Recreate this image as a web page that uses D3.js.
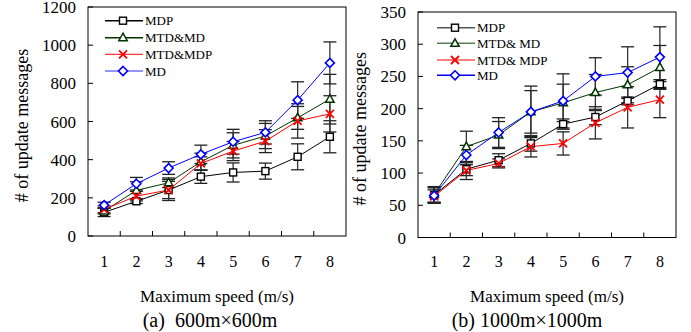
<!DOCTYPE html>
<html>
<head>
<meta charset="utf-8">
<script src="https://cdn.jsdelivr.net/npm/d3@7"></script>
<style>
  body { margin: 0; background: #fff; }
  svg { display: block; font-family: "Liberation Serif", "Times New Roman", serif; }
</style>
</head>
<body>
<svg id="chart" width="691" height="332"></svg>
<script>
// categories
const speeds = [1, 2, 3, 4, 5, 6, 7, 8];
const seriesNames = ["MDP", "MTD&MD", "MTD&MDP", "MD"];
const legendNamesB = ["MDP", "MTD& MD", "MTD& MDP", "MD"];

// (a) 600m x 600m
const mdpA     = [124, 182, 241, 311, 333, 340, 415, 520];
const mtdMdA   = [131, 239, 279, 389, 475, 524, 619, 717];
const mtdMdpA  = [140, 209, 241, 380, 445, 497, 603, 640];
const mdA      = [162, 274, 356, 428, 494, 543, 712, 907];
const mdpErrA    = [22, 12, 45, 35, 50, 42, 68, 84];
const mtdMdErrA  = [15, 45, 25, 45, 66, 66, 60, 130];
const mtdMdpErrA = [18, 25, 55, 35, 50, 60, 90, 95];
const mdErrA     = [15, 33, 33, 48, 65, 61, 96, 110];
const yTicksA = [0, 200, 400, 600, 800, 1000, 1200];

// (b) 1000m x 1000m
const mdpB     = [66, 106, 120, 146, 176, 187, 212, 238];
const mtdMdB   = [67, 141, 159, 195, 209, 225, 237, 264];
const mtdMdpB  = [64, 104, 115, 141, 146, 178, 202, 214];
const mdB      = [65, 128, 163, 195, 212, 250, 256, 280];
const mdpErrB    = [12, 10, 10, 12, 8, 12, 6, 7];
const mtdMdErrB  = [12, 24, 21, 33, 29, 28, 28, 34];
const mtdMdpErrB = [10, 14, 7, 16, 18, 25, 32, 28];
const mdErrB     = [12, 15, 23, 40, 42, 29, 40, 47];
const yTicksB = [0, 50, 100, 150, 200, 250, 300, 350];

const svg = d3.select("#chart");

// marker styles per series
const styles = [
  { color: "#000000", marker: "square",   legendLine: "#000000", legendLineB: "#555555" },
  { color: "#003300", marker: "triangle", legendLine: "#003300", legendLineB: "#5a7d5a" },
  { color: "#ff0000", marker: "cross",    legendLine: "#ff0000", legendLineB: "#ff0000" },
  { color: "#0000ff", marker: "diamond",  legendLine: "#7070ff", legendLineB: "#0000ff" }
];

function drawMarker(g, type, color, x, y) {
  if (type === "square") {
    g.append("rect").attr("x", x - 3.5).attr("y", y - 3.5).attr("width", 7).attr("height", 7)
      .attr("fill", "#fff").attr("stroke", color).attr("stroke-width", 1.4);
  } else if (type === "triangle") {
    g.append("path").attr("d", `M${x},${y - 4.5}L${x + 4.2},${y + 3}L${x - 4.2},${y + 3}Z`)
      .attr("fill", "#fff").attr("stroke", color).attr("stroke-width", 1.5);
  } else if (type === "cross") {
    g.append("path").attr("d", `M${x - 4},${y - 4}L${x + 4},${y + 4}M${x - 4},${y + 4}L${x + 4},${y - 4}`)
      .attr("stroke", color).attr("stroke-width", 1.8).attr("fill", "none");
  } else {
    g.append("path").attr("d", `M${x},${y - 4.5}L${x + 4.5},${y}L${x},${y + 4.5}L${x - 4.5},${y}Z`)
      .attr("fill", "#fff").attr("stroke", color).attr("stroke-width", 1.6);
  }
}

function drawPanel(p) {
  const x = d3.scaleBand().domain(speeds).range([p.left, p.right]).padding(0);
  const y = d3.scaleLinear().domain([0, p.yMax]).range([p.bottom, p.top]);
  const g = svg.append("g");

  // frame
  g.append("rect").attr("x", p.left).attr("y", p.top)
    .attr("width", p.right - p.left).attr("height", p.bottom - p.top)
    .attr("fill", "none").attr("stroke", "#000").attr("stroke-width", 1);

  // y ticks (inward) + labels
  p.yTicks.forEach(t => {
    g.append("line").attr("x1", p.left).attr("x2", p.left + 5)
      .attr("y1", y(t)).attr("y2", y(t)).attr("stroke", "#000");
    g.append("text").attr("x", p.labelRight).attr("y", y(t) + 6)
      .attr("text-anchor", "end").attr("font-size", 17).text(t);
  });

  // x ticks between categories (inward) + labels
  speeds.forEach((s, i) => {
    if (i > 0) {
      g.append("line").attr("x1", x(s)).attr("x2", x(s))
        .attr("y1", p.bottom).attr("y2", p.bottom - 5).attr("stroke", "#000");
    }
    g.append("text").attr("x", x(s) + x.bandwidth() / 2).attr("y", 267)
      .attr("text-anchor", "middle").attr("font-size", 16).text(s);
  });

  const cx = s => x(s) + x.bandwidth() / 2;

  // error bars
  p.series.forEach((vals, k) => {
    vals.forEach((v, i) => {
      const e = p.errors[k][i];
      const xx = cx(speeds[i]);
      g.append("line").attr("x1", xx).attr("x2", xx).attr("y1", y(v - e)).attr("y2", y(v + e))
        .attr("stroke", "#333").attr("stroke-width", 1.3);
      [v - e, v + e].forEach(w => {
        g.append("line").attr("x1", xx - 6.5).attr("x2", xx + 6.5).attr("y1", y(w)).attr("y2", y(w))
          .attr("stroke", "#222").attr("stroke-width", 1.3);
      });
    });
  });

  // lines
  const line = d3.line().x((d, i) => cx(speeds[i])).y(d => y(d));
  p.series.forEach((vals, k) => {
    g.append("path").datum(vals).attr("d", line)
      .attr("fill", "none").attr("stroke", styles[k].color).attr("stroke-width", 1);
  });

  // markers
  p.series.forEach((vals, k) => {
    vals.forEach((v, i) => drawMarker(g, styles[k].marker, styles[k].color, cx(speeds[i]), y(v)));
  });

  // legend
  p.legendNames.forEach((name, k) => {
    const ly = p.legendY[k];
    g.append("line").attr("x1", p.legendX).attr("x2", p.legendX + 38).attr("y1", ly).attr("y2", ly)
      .attr("stroke", p.legendLines[k]).attr("stroke-width", k === 2 ? 1 : 1.6);
    drawMarker(g, styles[k].marker, styles[k].color, p.legendX + 18, ly);
    g.append("text").attr("x", p.legendX + 40).attr("y", ly + 4.5)
      .attr("font-size", 13).text(name);
  });

  // y title
  g.append("text").attr("transform", `translate(${p.titleX},${(p.top + p.bottom) / 2 + 4}) rotate(-90)`)
    .attr("text-anchor", "middle").attr("font-size", 18).text("# of update messages");

  // x title and caption
  const mid = (p.left + p.right) / 2;
  g.append("text").attr("x", mid).attr("y", 302).attr("text-anchor", "middle")
    .attr("font-size", 17).text("Maximum speed (m/s)");
  g.append("text").attr("x", p.captionX).attr("y", 327).attr("text-anchor", "middle")
    .attr("font-size", 20).style("white-space", "pre").text(p.caption);
}

drawPanel({
  left: 88, right: 346, top: 7, bottom: 236, yMax: 1200, yTicks: yTicksA, labelRight: 76,
  series: [mdpA, mtdMdA, mtdMdpA, mdA], errors: [mdpErrA, mtdMdErrA, mtdMdpErrA, mdErrA],
  legendNames: seriesNames, legendX: 105, legendY: [20.7, 37.7, 54.3, 71],
  legendLines: styles.map(s => s.legendLine),
  titleX: 28, caption: "(a)  600m\u00d7600m", captionX: 210
});

drawPanel({
  left: 418, right: 676, top: 12, bottom: 237.5, yMax: 350, yTicks: yTicksB, labelRight: 406,
  series: [mdpB, mtdMdB, mtdMdpB, mdB], errors: [mdpErrB, mtdMdErrB, mtdMdpErrB, mdErrB],
  legendNames: legendNamesB, legendX: 437, legendY: [27.7, 43.3, 60, 75.3],
  legendLines: styles.map(s => s.legendLineB),
  titleX: 366, caption: "(b) 1000m\u00d71000m", captionX: 527
});
</script>
</body>
</html>
